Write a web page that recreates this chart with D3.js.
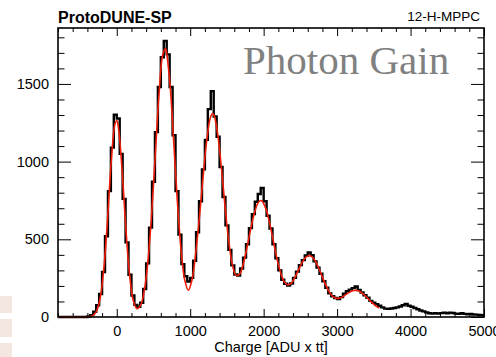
<!DOCTYPE html>
<html>
<head>
<meta charset="utf-8">
<script src="https://cdn.jsdelivr.net/npm/d3@7"></script>
<style>
  html, body { margin: 0; padding: 0; background: #fff; }
  svg { display: block; }
</style>
</head>
<body>
<svg id="chart" width="496" height="357"></svg>
<script>
// Charge spectrum histogram: 40-unit bins starting at -800 ADU x tt
const binStart = -800;
const binWidth = 40;
const counts = [
  0, 0, 0, 0, 0, 0, 0, 0, 0, 0,
  3, 12, 34, 76, 148, 290, 520, 810, 1090, 1302,
  1278, 1050, 760, 480, 272, 138, 78, 66, 92, 180,
  345, 575, 870, 1190, 1480, 1672, 1776, 1690, 1480, 1170,
  810, 530, 340, 262, 228, 252, 362, 545, 745, 950,
  1140, 1338, 1454, 1290, 1160, 965, 772, 590, 432, 332,
  274, 266, 312, 382, 468, 572, 662, 742, 792, 830,
  745, 652, 570, 468, 378, 300, 240, 214, 202, 216,
  252, 292, 334, 366, 396, 415, 398, 358, 318, 278,
  230, 188, 152, 134, 122, 116, 128, 150, 166, 176,
  186, 196, 174, 158, 140, 124, 104, 92, 82, 72,
  62, 54, 52, 55, 58, 62, 68, 76, 84, 72,
  66, 58, 50, 42, 36, 30, 24, 22, 24, 22,
  25, 27, 24, 28, 26, 22, 20, 24, 20, 18,
  19, 16, 15, 13, 12
];

// Multi-peak fit curve (charge, entries)
const fitX = [
  -800, -425, -375, -325, -275, -225, -175, -125, -75, -25, 0, 25, 75, 125, 175, 225, 275, 325,
  375, 425, 475, 525, 575, 625, 665, 675, 725, 775, 825, 875, 925, 975, 1025, 1075,
  1125, 1175, 1225, 1275, 1305, 1325, 1375, 1425, 1475, 1525, 1575, 1625, 1675, 1725,
  1775, 1825, 1875, 1925, 1960, 1975, 2025, 2075, 2125, 2175, 2225, 2275, 2325, 2375,
  2425, 2475, 2525, 2575, 2625, 2675, 2725, 2775, 2825, 2875, 2925, 2975, 3025, 3075,
  3125, 3175, 3225, 3275, 3325, 3375, 3425, 3475, 3525, 3575
];
const fitY = [
  0, 0, 2, 9, 38, 124, 316, 632, 999, 1240, 1265, 1211, 929, 562, 269, 106, 53, 76,
  171, 362, 663, 1049, 1431, 1685, 1728, 1710, 1497, 1130, 744, 434, 240, 172, 240, 413,
  640, 900, 1136, 1284, 1310, 1298, 1175, 960, 709, 487, 335, 268, 277, 346,
  452, 569, 671, 736, 750, 747, 703, 617, 504, 389, 294, 231, 207, 217,
  254, 304, 351, 385, 395, 380, 340, 286, 228, 177, 140, 123, 120, 130,
  147, 161, 170, 170, 159, 140, 116, 92, 72, 57
];

const xMajorTicks = [0, 1000, 2000, 3000, 4000, 5000];
const yMajorTicks = [0, 500, 1000, 1500];

const W = 496, H = 357;
const plot = { left: 58, right: 484, top: 28, bottom: 317 };
const sansFont = '"Liberation Sans", Arial, Helvetica, sans-serif';

const x = d3.scaleLinear().domain([-800, 5000]).range([plot.left, plot.right]);
const y = d3.scaleLinear().domain([0, 1860]).range([plot.bottom, plot.top]);

const svg = d3.select("#chart");
svg.append("rect").attr("width", W).attr("height", H).attr("fill", "#fff");

// faint page tabs along the lower-left edge
const tabs = [[296, 17], [319, 18], [343, 14]];
svg.selectAll("rect.tab").data(tabs).join("rect")
  .attr("class", "tab")
  .attr("x", 0).attr("y", d => d[0])
  .attr("width", 12).attr("height", d => d[1])
  .attr("fill", "#f3e7e0");

// minor tick positions
const xMinor = d3.range(-800, 5001, 200).filter(v => v % 1000 !== 0);
const yMinor = d3.range(100, 1860, 100).filter(v => v % 500 !== 0);

function tidy(g) {
  g.select(".domain").remove();
  g.selectAll("line").attr("stroke", "#000").attr("stroke-width", 1);
  g.selectAll("text").attr("font-family", sansFont).attr("font-size", 14.5).attr("fill", "#000");
  g.attr("font-family", null).attr("font-size", null);
}

// bottom axis
svg.append("g").attr("transform", `translate(0,${plot.bottom})`)
  .call(d3.axisBottom(x).tickValues(xMajorTicks).tickSizeInner(-8).tickSizeOuter(0)
    .tickPadding(9).tickFormat(d3.format("d")))
  .call(tidy);
svg.append("g").attr("transform", `translate(0,${plot.bottom})`)
  .call(d3.axisBottom(x).tickValues(xMinor).tickSizeInner(-4).tickSizeOuter(0).tickFormat(""))
  .call(tidy);
// top axis
svg.append("g").attr("transform", `translate(0,${plot.top})`)
  .call(d3.axisTop(x).tickValues(xMajorTicks).tickSizeInner(-8).tickSizeOuter(0).tickFormat(""))
  .call(tidy);
svg.append("g").attr("transform", `translate(0,${plot.top})`)
  .call(d3.axisTop(x).tickValues(xMinor).tickSizeInner(-4).tickSizeOuter(0).tickFormat(""))
  .call(tidy);
// left axis
svg.append("g").attr("transform", `translate(${plot.left},0)`)
  .call(d3.axisLeft(y).tickValues(yMajorTicks).tickSizeInner(-13).tickSizeOuter(0)
    .tickPadding(9).tickFormat(d3.format("d")))
  .call(tidy);
svg.append("g").attr("transform", `translate(${plot.left},0)`)
  .call(d3.axisLeft(y).tickValues(yMinor).tickSizeInner(-6.5).tickSizeOuter(0).tickFormat(""))
  .call(tidy);
// right axis
svg.append("g").attr("transform", `translate(${plot.right},0)`)
  .call(d3.axisRight(y).tickValues(yMajorTicks).tickSizeInner(-13).tickSizeOuter(0).tickFormat(""))
  .call(tidy);
svg.append("g").attr("transform", `translate(${plot.right},0)`)
  .call(d3.axisRight(y).tickValues(yMinor).tickSizeInner(-6.5).tickSizeOuter(0).tickFormat(""))
  .call(tidy);

// clip to the frame (allow stroke to sit on the baseline)
svg.append("clipPath").attr("id", "plotClip")
  .append("rect")
  .attr("x", plot.left).attr("y", plot.top)
  .attr("width", plot.right - plot.left).attr("height", plot.bottom - plot.top + 2);

// histogram as a step outline
const edges = counts.map((c, i) => [binStart + i * binWidth, c]);
edges.push([binStart + counts.length * binWidth, counts[counts.length - 1]]);
const stepLine = d3.line()
  .x(d => x(d[0])).y(d => y(d[1]))
  .curve(d3.curveStepAfter);
svg.append("path")
  .datum(edges)
  .attr("clip-path", "url(#plotClip)")
  .attr("d", stepLine)
  .attr("fill", "none")
  .attr("stroke", "#000")
  .attr("stroke-width", 2.4)
  .attr("stroke-linejoin", "miter");

// fit curve
const fitPts = fitX.map((v, i) => [v, fitY[i]]);
const fitLine = d3.line()
  .x(d => x(d[0])).y(d => y(d[1]))
  .curve(d3.curveCatmullRom.alpha(0.5));
svg.append("path")
  .datum(fitPts)
  .attr("clip-path", "url(#plotClip)")
  .attr("d", fitLine)
  .attr("fill", "none")
  .attr("stroke", "#f01e0a")
  .attr("stroke-width", 1.6);

// frame
svg.append("rect")
  .attr("x", plot.left).attr("y", plot.top)
  .attr("width", plot.right - plot.left).attr("height", plot.bottom - plot.top)
  .attr("fill", "none").attr("stroke", "#000").attr("stroke-width", 1.6);

// labels
svg.append("text")
  .attr("x", 58).attr("y", 23)
  .attr("font-family", sansFont).attr("font-weight", "bold").attr("font-size", 16)
  .text("ProtoDUNE-SP");
svg.append("text")
  .attr("x", 480).attr("y", 21).attr("text-anchor", "end")
  .attr("font-family", sansFont).attr("font-size", 13.5)
  .text("12-H-MPPC");
svg.append("text")
  .attr("x", 243).attr("y", 74)
  .attr("font-family", '"Liberation Serif", "Times New Roman", serif').attr("font-size", 41)
  .attr("fill", "#808080")
  .text("Photon Gain");
svg.append("text")
  .attr("x", (plot.left + plot.right) / 2).attr("y", 352).attr("text-anchor", "middle")
  .attr("font-family", sansFont).attr("font-size", 14.5)
  .text("Charge [ADU x tt]");
</script>
</body>
</html>
